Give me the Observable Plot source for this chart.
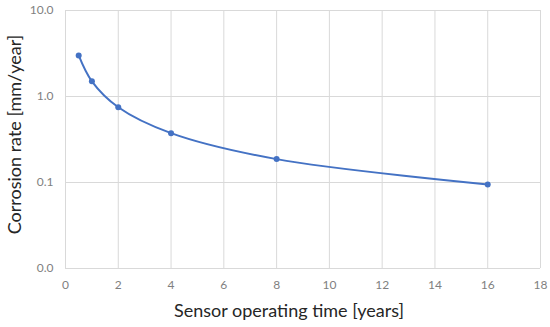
<!DOCTYPE html>
<html><head><meta charset="utf-8">
<script src="https://cdn.jsdelivr.net/npm/d3@7"></script>
<script src="https://cdn.jsdelivr.net/npm/@observablehq/plot@0.6"></script>
<style>
html,body{margin:0;padding:0;background:#fff;}
</style>
</head><body>
<div id="chart"></div>
<script>
const years = [0.5, 1, 2, 4, 8, 16];
const rates = [3.0, 1.5, 0.75, 0.375, 0.187, 0.095];
const xTicks = [0, 2, 4, 6, 8, 10, 12, 14, 16, 18];
const yTicks = [0.01, 0.1, 1, 10];
const xLabel = "Sensor operating time [years]";
const yLabel = "Corrosion rate [mm/year]";

const data = years.map((t, i) => ({t, r: rates[i]}));
const blue = "#4472C4";
const grid = "#d9d9d9";

const chart = Plot.plot({
  width: 550,
  height: 327,
  marginLeft: 65,
  marginRight: 10,
  marginTop: 10,
  marginBottom: 59,
  style: {fontFamily: "Lato, 'Open Sans', sans-serif", background: "#fff"},
  x: {domain: [0, 18], ticks: xTicks, label: null},
  y: {type: "log", domain: [0.01, 10], ticks: yTicks, label: null, tickFormat: d3.format(".1f")},
  marks: [
    Plot.gridX(xTicks, {stroke: grid, strokeOpacity: 1, strokeWidth: 1}),
    Plot.gridY(yTicks, {stroke: grid, strokeOpacity: 1, strokeWidth: 1}),
    Plot.axisX(xTicks, {tickSize: 0, tickPadding: 12, fontSize: 12, fill: "#7f7f7f", tickFormat: d3.format("d"), label: null}),
    Plot.axisY(yTicks, {tickSize: 0, tickPadding: 12, fontSize: 12, fill: "#7f7f7f", tickFormat: d3.format(".1f"), label: null}),
    Plot.line(data, {x: "t", y: "r", stroke: blue, strokeWidth: 2, curve: "catmull-rom"}),
    Plot.dot(data, {x: "t", y: "r", fill: blue, r: 3}),
    Plot.text([xLabel], {frameAnchor: "bottom", dy: 48, dx: -14, fontSize: 18, fill: "#262626"}),
    Plot.text([yLabel], {frameAnchor: "left", textAnchor: "middle", dx: -50, dy: -5, rotate: -90, fontSize: 18, fill: "#262626"})
  ]
});
document.getElementById("chart").appendChild(chart);
</script>
</body></html>
